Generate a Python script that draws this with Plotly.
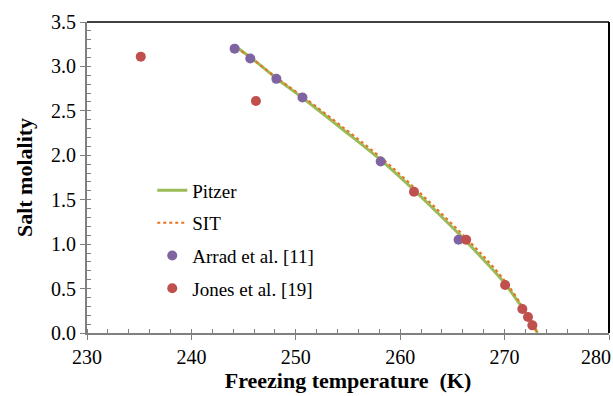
import plotly.graph_objects as go

# Model curves
pitzer_T = [244.4, 246.0, 248.1, 250.6, 254.5, 258.1, 261.3, 263.6, 266.0, 268.1, 270.0, 271.6, 272.5, 273.15]
pitzer_m = [3.21, 3.07, 2.87, 2.65, 2.29, 1.95, 1.61, 1.35, 1.07, 0.81, 0.56, 0.30, 0.14, 0.0]
sit_T = [244.3, 246.0, 248.2, 250.8, 254.8, 258.4, 261.6, 263.9, 266.3, 268.4, 270.2, 271.7, 272.5, 273.15]
sit_m = [3.21, 3.07, 2.87, 2.65, 2.29, 1.95, 1.61, 1.35, 1.07, 0.81, 0.56, 0.30, 0.14, 0.0]

# Experimental data
arrad_T = [244.14, 245.64, 248.14, 250.64, 258.13, 265.59]
arrad_m = [3.20, 3.09, 2.86, 2.65, 1.93, 1.05]
jones_T = [235.15, 246.18, 261.32, 266.32, 270.05, 271.70, 272.24, 272.66]
jones_m = [3.11, 2.61, 1.59, 1.05, 0.54, 0.27, 0.18, 0.086]

x_ticks = [230, 240, 250, 260, 270, 280]
y_ticks = [0.0, 0.5, 1.0, 1.5, 2.0, 2.5, 3.0, 3.5]

fig = go.Figure()
fig.add_trace(go.Scatter(x=pitzer_T, y=pitzer_m, mode="lines", name="Pitzer",
                         line=dict(color="#9BBB59", width=3, shape="spline"), legendgroup="a"))
fig.add_trace(go.Scatter(x=sit_T, y=sit_m, mode="lines", name="SIT",
                         line=dict(color="#E8731F", width=2, dash="dot", shape="spline"), legendgroup="b"))
fig.add_trace(go.Scatter(x=arrad_T, y=arrad_m, mode="markers", name="Arrad et al. [11]",
                         marker=dict(color="#8064A2", size=10), legendgroup="c"))
fig.add_trace(go.Scatter(x=jones_T, y=jones_m, mode="markers", name="Jones et al. [19]",
                         marker=dict(color="#C0504D", size=10), legendgroup="d"))

serif = "Liberation Serif"
# last x tick label is drawn right-aligned at the edge so it is not cut off
x_ticktext = [str(v) for v in x_ticks[:-1]] + [""]
fig.update_layout(
    width=613, height=396,
    margin=dict(l=87, r=4, t=22, b=63),
    plot_bgcolor="white", paper_bgcolor="white",
    font=dict(family=serif, size=20, color="black"),
    showlegend=True,
    legend=dict(x=0.125, y=0.52, xanchor="left", yanchor="top",
                bgcolor="rgba(0,0,0,0)", font=dict(size=19, family=serif),
                tracegroupgap=5),
    xaxis=dict(range=[230, 280], tickvals=x_ticks, ticktext=x_ticktext,
               automargin=False,
               showgrid=False, zeroline=False, showline=True, linecolor="#808080", linewidth=2,
               ticks="outside", ticklen=5, tickcolor="#808080", tickwidth=1,
               tickfont=dict(size=20, family=serif),
               minor=dict(dtick=2, ticks="inside", ticklen=4, tickcolor="#808080", showgrid=False),
               title=dict(text="<b>Freezing temperature  (K)</b>", font=dict(size=22, family=serif), standoff=6)),
    yaxis=dict(range=[0, 3.5], tickvals=y_ticks, ticktext=[f"{v:.1f}" for v in y_ticks],
               automargin=False,
               showgrid=False, zeroline=False, showline=True, linecolor="#808080", linewidth=2,
               ticks="outside", ticklen=5, tickcolor="#808080", tickwidth=1,
               tickfont=dict(size=20, family=serif),
               minor=dict(dtick=0.1, ticks="inside", ticklen=4, tickcolor="#808080", showgrid=False),
               title=dict(text="<b>Salt molality</b>", font=dict(size=22, family=serif), standoff=12)),
    shapes=[
        dict(type="line", xref="paper", yref="paper", x0=0, x1=1, y0=1, y1=1, layer="above",
             line=dict(color="#404040", width=2)),
        dict(type="line", xref="paper", yref="paper", x0=1, x1=1, y0=0, y1=1, layer="above",
             line=dict(color="black", width=2)),
    ],
    annotations=[
        dict(text=str(x_ticks[-1]), xref="paper", yref="paper", x=1, y=0,
             xanchor="right", yanchor="middle", xshift=4, yshift=-24, showarrow=False,
             font=dict(size=20, family=serif, color="black")),
    ],
)
fig.write_html("out.html", config={"displayModeBar": False},
               post_script="document.body.style.margin='0';document.body.style.overflow='hidden';")
